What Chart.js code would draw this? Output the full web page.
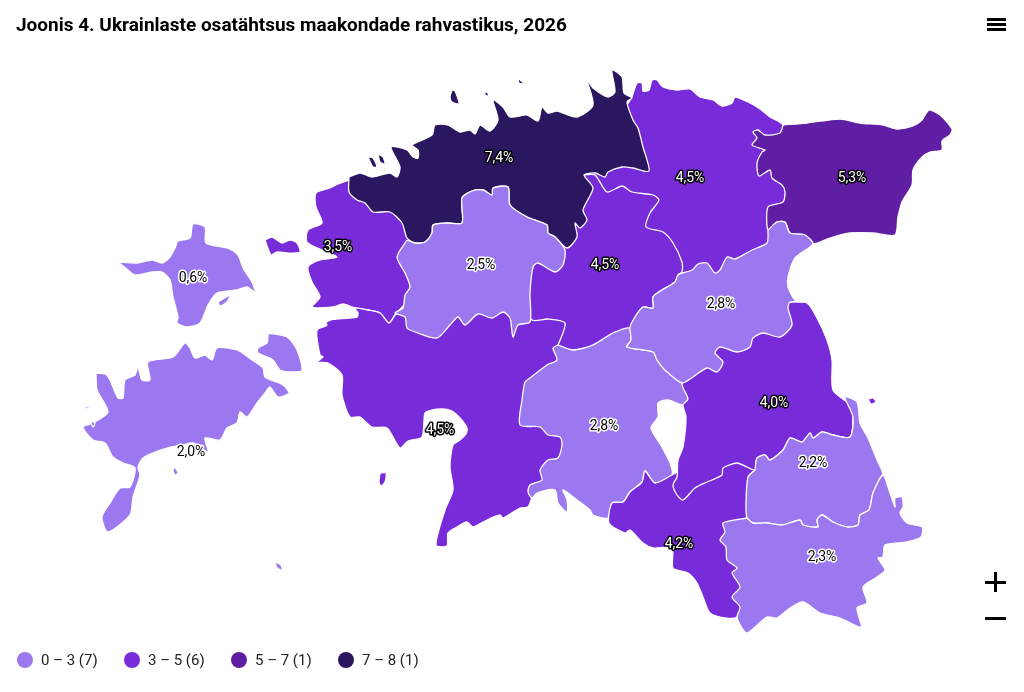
<!DOCTYPE html>
<html lang="et">
<head>
<meta charset="utf-8">
<title>Joonis 4</title>
<style>
  html, body { margin: 0; padding: 0; background: #fff; }
  body { width: 1024px; height: 692px; position: relative; overflow: hidden; font-family: Roboto, sans-serif; color: #000; }
  #map { position: absolute; left: 0; top: 0; }
  #title { position: absolute; left: 16px; top: 13px; font-size: 19px; font-weight: 700; line-height: 24px; white-space: nowrap; }
  #legend { position: absolute; left: 17px; top: 650px; height: 20px; font-size: 15px; line-height: 20px; color: #222; }
  .item { position: absolute; top: 0; white-space: nowrap; padding-left: 24px; }
  .dot { position: absolute; left: 0; top: 2px; width: 16px; height: 16px; border-radius: 50%; }
  .bar { position: absolute; background: #000; }
</style>
</head>
<body>
<canvas id="map" width="1024" height="692"></canvas>
<div id="title">Joonis 4. Ukrainlaste osatähtsus maakondade rahvastikus, 2026</div>
<div id="legend"></div>
<!-- menu icon -->
<div class="bar" style="left:987px;top:18px;width:19px;height:2.5px"></div>
<div class="bar" style="left:987px;top:23px;width:19px;height:2.5px"></div>
<div class="bar" style="left:987px;top:28px;width:19px;height:2.5px"></div>
<!-- zoom buttons -->
<div class="bar" style="left:985px;top:581px;width:21px;height:2.5px"></div>
<div class="bar" style="left:994px;top:572px;width:2.5px;height:20px"></div>
<div class="bar" style="left:985px;top:617px;width:21px;height:2.5px"></div>

<script src="https://cdn.jsdelivr.net/npm/chart.js@4"></script>
<script>
// classes
const classLabels = ['0 – 3 (7)', '3 – 5 (6)', '5 – 7 (1)', '7 – 8 (1)'];
const classLimits = [3, 5, 7, 8];
const classColors = ['#9b78f0', '#782bd8', '#5f1ea3', '#2b1760'];

// counties, values and where the value label sits
const countyNames = ['Harju', 'Lääne-Viru', 'Ida-Viru', 'Lääne', 'Rapla', 'Järva', 'Hiiu', 'Jõgeva', 'Tartu', 'Pärnu', 'Viljandi', 'Põlva', 'Saare', 'Valga', 'Võru'];
const countyValues = [7.4, 4.5, 5.3, 3.5, 2.5, 4.5, 0.6, 2.8, 4.0, 4.5, 2.8, 2.2, 2.0, 4.2, 2.3];
const labelX = [499, 690, 852, 338, 481, 605, 193, 721, 774, 440, 604, 813, 191, 679, 822];
const labelY = [157, 177, 177, 246, 264, 264, 277, 303, 402, 429, 425, 462, 451, 543, 556];

// outlines, in picture pixels
const harju = [[349,177],[360,173],[372,177],[390,173],[397,177],[400,167],[391,147],[407,150],[413,157],[418,158],[418,150],[412,145],[432,135],[435,125],[448,125],[460,132],[470,130],[475,134],[480,125],[490,131],[498,120],[493,100],[503,107],[510,117],[527,115],[538,121],[542,107],[548,113],[557,111],[577,117],[593,105],[587,80],[593,88],[608,97],[615,92],[612,70],[622,77],[624,93],[632,98],[627,102],[633,120],[638,128],[643,147],[649,171],[633,168],[622,167],[608,172],[605,177],[595,173],[584,175],[593,188],[583,210],[587,220],[580,228],[575,223],[577,237],[567,248],[555,237],[548,233],[547,225],[527,217],[510,205],[508,187],[493,188],[492,195],[483,190],[472,191],[462,198],[462,223],[447,223],[433,225],[432,233],[425,242],[415,243],[407,238],[402,223],[390,212],[373,212],[365,203],[357,200],[349,192]];
const aegna = [[452,90],[455,91],[459,104],[452,102],[450,97]];
const pakri1 = [[368,157],[373,158],[377,167],[373,167]];
const pakri2 = [[378,154],[383,157],[385,164],[380,162]];
const naissaar = [[485,92],[488,93],[488,96],[485,95]];
const prangli = [[518,78],[524,84],[519,83]];
const laaneViru = [[632,97],[637,83],[642,83],[643,91],[649,90],[652,80],[657,80],[663,87],[677,90],[690,89],[700,97],[713,100],[722,106],[732,103],[735,97],[748,102],[760,109],[770,117],[783,125],[800,170],[790,240],[700,280],[640,250],[610,200],[590,180],[600,150]];
const idaViru = [[783,125],[807,123],[840,119],[860,123],[883,125],[897,129],[913,126],[922,120],[929,110],[940,115],[952,129],[950,135],[942,141],[942,150],[930,152],[922,157],[913,170],[912,185],[902,202],[898,217],[895,235],[873,233],[850,233],[830,238],[813,244],[805,235],[790,233],[785,222],[777,222],[768,230],[768,207],[783,202],[785,192],[782,185],[772,178],[770,170],[759,176],[757,163],[762,152],[765,150],[752,145],[757,138],[753,132],[758,130],[765,135],[780,133]];
const laane = [[349,180],[338,184],[330,188],[316,193],[316,207],[322,223],[308,230],[307,242],[322,250],[337,257],[320,260],[308,267],[312,282],[320,297],[312,307],[333,307],[343,304],[355,308],[368,310],[380,313],[389,323],[395,315],[415,290],[420,240],[385,205]];
const vormsi = [[265,240],[272,237],[282,243],[290,240],[297,243],[300,252],[287,253],[277,252],[271,255]];
const rapla = [[407,240],[397,257],[405,273],[410,287],[405,295],[403,308],[395,313],[405,317],[407,328],[415,332],[437,338],[450,325],[458,317],[465,325],[478,314],[492,318],[503,312],[510,318],[513,337],[518,325],[530,322],[530,293],[533,267],[538,263],[555,272],[563,265],[565,250],[555,237],[548,233],[547,225],[527,217],[510,205],[508,187],[493,188],[492,195],[483,190],[472,191],[462,198],[462,223],[447,223],[433,225],[432,233],[425,242],[415,243]];
const jarva = [[584,175],[595,175],[607,192],[622,186],[632,192],[653,195],[659,200],[650,213],[646,227],[663,232],[673,243],[682,262],[682,272],[678,275],[675,282],[662,290],[653,297],[653,308],[643,307],[635,317],[630,328],[613,333],[593,345],[573,350],[555,347],[558,345],[565,323],[548,319],[532,320],[525,300],[540,250],[570,220]];
const hiiu = [[118,262],[137,263],[152,260],[162,263],[170,257],[175,248],[178,241],[190,238],[193,224],[205,227],[206,243],[227,248],[238,255],[243,268],[252,282],[255,292],[247,287],[237,290],[217,293],[208,305],[200,323],[187,327],[177,323],[178,317],[173,297],[170,280],[162,272],[152,272],[135,275],[128,270]];
const kassari = [[218,302],[230,295],[227,302],[220,306]];
const jogeva = [[768,230],[767,243],[752,250],[735,259],[727,257],[720,270],[715,273],[707,263],[698,264],[692,270],[678,275],[675,282],[662,290],[653,297],[653,308],[643,307],[635,317],[630,327],[631,340],[627,347],[653,352],[657,360],[665,370],[682,383],[693,377],[707,368],[717,372],[723,362],[715,353],[720,347],[737,352],[750,347],[753,338],[763,333],[780,337],[792,325],[788,308],[790,302],[803,302],[795,300],[788,287],[788,277],[795,258],[813,244],[805,235],[790,233],[785,222],[777,222]];
const tartu = [[790,302],[807,303],[817,318],[827,340],[832,360],[833,390],[850,405],[853,417],[850,437],[833,435],[822,432],[813,438],[810,433],[802,442],[790,438],[783,450],[770,460],[765,455],[757,458],[755,470],[747,467],[737,463],[723,468],[722,475],[712,480],[707,482],[695,488],[683,500],[677,495],[673,485],[677,477],[678,460],[683,447],[686,417],[683,405],[688,399],[682,383],[700,360],[780,300]];
const piirissaar = [[868,399],[873,398],[876,402],[871,404]];
const parnu = [[395,315],[389,323],[380,313],[368,310],[355,308],[358,313],[357,317],[330,320],[325,323],[320,318],[327,325],[317,330],[320,355],[323,357],[317,362],[328,363],[342,375],[342,395],[350,417],[360,417],[372,427],[387,428],[400,448],[408,441],[422,437],[425,413],[432,410],[443,409],[452,411],[460,418],[467,428],[466,434],[460,440],[453,445],[450,467],[453,490],[445,510],[436,545],[447,546],[448,533],[457,527],[467,522],[473,527],[487,520],[500,515],[503,518],[520,508],[528,507],[532,498],[575,450],[575,380],[575,335],[570,310],[500,300],[420,300]];
const kihnu = [[380,473],[386,473],[385,482],[381,486],[379,482]];
const viljandi = [[558,345],[553,348],[557,360],[547,365],[530,378],[525,382],[522,400],[520,425],[540,427],[548,435],[560,437],[562,445],[558,458],[548,460],[540,470],[542,480],[530,485],[528,492],[532,498],[537,493],[555,490],[558,503],[567,512],[567,500],[563,490],[577,500],[590,510],[593,515],[608,518],[612,503],[623,502],[630,492],[642,482],[645,471],[655,483],[672,475],[670,463],[662,447],[651,428],[658,417],[658,403],[668,400],[683,405],[688,399],[682,383],[665,370],[657,360],[653,352],[627,347],[631,340],[630,328],[613,333],[593,345],[573,350]];
const polva = [[755,470],[757,458],[765,455],[770,460],[783,450],[790,438],[802,442],[810,433],[813,438],[822,432],[833,435],[850,437],[853,417],[845,397],[857,402],[860,423],[868,438],[877,460],[883,475],[873,493],[869,510],[860,515],[858,525],[848,527],[833,522],[822,515],[817,520],[818,527],[803,525],[800,520],[782,525],[767,523],[753,523],[747,518],[746,503],[748,477]];
const saare = [[96,373],[107,375],[118,398],[123,398],[125,380],[135,375],[138,367],[142,380],[150,380],[148,362],[173,357],[185,343],[190,348],[195,358],[205,355],[212,360],[217,348],[237,350],[252,360],[263,368],[265,377],[283,385],[289,393],[278,397],[270,387],[265,393],[257,403],[247,417],[240,412],[237,423],[227,428],[220,440],[205,438],[208,452],[193,443],[183,445],[172,447],[155,452],[143,458],[138,467],[140,475],[133,497],[130,515],[108,532],[102,517],[110,503],[120,488],[130,487],[135,468],[123,463],[113,457],[105,443],[93,440],[83,427],[93,423],[108,412],[97,390]];
const muhu = [[268,333],[287,337],[297,350],[302,370],[293,372],[280,370],[273,360],[258,353],[258,348],[267,343]];
const abruka = [[175,467],[178,473],[175,475],[173,470]];
const vilsandi1 = [[82,407],[90,407],[88,409]];
const vilsandi2 = [[90,420],[95,423],[93,427]];
const ruhnu = [[275,562],[281,565],[282,570],[277,568]];
const valga = [[672,475],[655,483],[645,471],[642,482],[630,492],[623,502],[612,503],[609,523],[625,533],[630,530],[643,543],[653,548],[672,548],[673,568],[688,573],[697,583],[703,597],[710,613],[725,618],[737,617],[755,590],[760,520],[765,480],[750,450],[700,450],[680,470]];
const voru = [[747,518],[753,523],[767,523],[782,525],[800,520],[803,525],[818,527],[817,520],[822,515],[833,522],[848,527],[858,525],[860,515],[869,510],[873,493],[883,475],[890,493],[895,507],[895,498],[902,497],[903,507],[900,513],[907,523],[922,527],[921,537],[907,542],[885,545],[883,557],[878,558],[885,570],[877,577],[863,587],[867,603],[857,608],[861,627],[840,618],[820,613],[803,602],[790,608],[777,618],[767,617],[755,627],[747,633],[742,628],[737,617],[740,607],[732,597],[740,587],[732,573],[737,568],[727,560],[726,547],[720,540],[725,532],[723,523]];

function classColor(value) {
  const i = classLimits.findIndex(limit => value < limit);
  return classColors[i];
}

function valueOf(name) {
  return countyValues[countyNames.indexOf(name)];
}

// bottom first, later shapes paint over the hidden edges of earlier ones
const shapes = [
  ['Lääne', laane], ['Lääne', vormsi],
  ['Pärnu', parnu], ['Pärnu', kihnu],
  ['Lääne-Viru', laaneViru],
  ['Järva', jarva],
  ['Harju', harju], ['Harju', aegna], ['Harju', pakri1], ['Harju', pakri2], ['Harju', naissaar], ['Harju', prangli],
  ['Rapla', rapla],
  ['Ida-Viru', idaViru],
  ['Viljandi', viljandi],
  ['Valga', valga],
  ['Tartu', tartu], ['Tartu', piirissaar],
  ['Jõgeva', jogeva],
  ['Põlva', polva],
  ['Võru', voru],
  ['Hiiu', hiiu], ['Hiiu', kassari],
  ['Saare', saare], ['Saare', muhu], ['Saare', abruka], ['Saare', vilsandi1], ['Saare', vilsandi2], ['Saare', ruhnu]
];

const datasets = shapes.map(([name, outline], i) => ({
  label: name,
  data: outline.concat([outline[0]]).map(p => ({ x: p[0], y: p[1] })),
  showLine: true,
  fill: 'shape',
  tension: 0.25,
  pointRadius: 0,
  borderColor: '#ffffff',
  borderWidth: 1.3,
  backgroundColor: classColor(valueOf(name)),
  order: shapes.length - i
}));

// value labels, white outline on the light class, black outline on the others
const valueLabels = {
  id: 'valueLabels',
  afterDatasetsDraw(chart) {
    const ctx = chart.ctx;
    ctx.save();
    ctx.font = '14px Roboto';
    ctx.textAlign = 'center';
    ctx.textBaseline = 'middle';
    ctx.lineJoin = 'round';
    ctx.lineWidth = 3;
    countyValues.forEach((value, i) => {
      const x = chart.scales.x.getPixelForValue(labelX[i]);
      const y = chart.scales.y.getPixelForValue(labelY[i]) + 1;
      const text = value.toFixed(1).replace('.', ',') + '%';
      const light = value < classLimits[0];
      ctx.strokeStyle = light ? '#ffffff' : '#000000';
      ctx.fillStyle = light ? '#000000' : '#ffffff';
      ctx.strokeText(text, x, y);
      ctx.fillText(text, x, y);
    });
    ctx.restore();
  }
};

new Chart(document.getElementById('map'), {
  type: 'scatter',
  data: { datasets },
  options: {
    responsive: false,
    animation: false,
    devicePixelRatio: 1,
    layout: { padding: 0 },
    scales: {
      x: { type: 'linear', display: false, min: 0, max: 1024 },
      y: { type: 'linear', display: false, min: 0, max: 692, reverse: true }
    },
    plugins: {
      legend: { display: false },
      title: { display: false },
      tooltip: { enabled: false }
    }
  },
  plugins: [valueLabels]
});

// legend
const legend = document.getElementById('legend');
classLabels.forEach((label, i) => {
  const item = document.createElement('div');
  item.className = 'item';
  item.style.left = (i * 107) + 'px';
  item.innerHTML = '<span class="dot" style="background:' + classColors[i] + '"></span>' + label;
  legend.appendChild(item);
});
</script>
</body>
</html>
